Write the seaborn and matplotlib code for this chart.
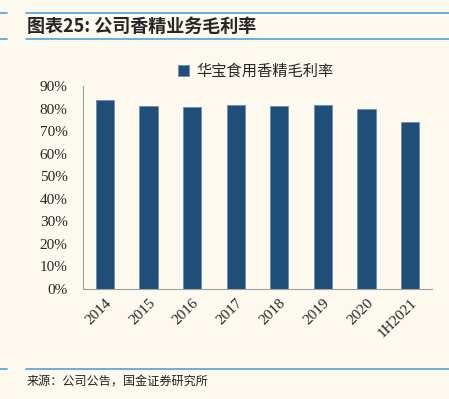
import numpy as np
import pandas as pd
import matplotlib
matplotlib.use("Agg")
import matplotlib.pyplot as plt
import seaborn as sns
from matplotlib.lines import Line2D
from matplotlib.patches import Patch

# ================= Data =================
years = ['2014', '2015', '2016', '2017', '2018', '2019', '2020', '1H2021']
margin = [83.6, 81.1, 80.5, 81.7, 81.2, 81.4, 79.6, 73.9]
series_name = '华宝食用香精毛利率'
title_text = '图表25: 公司香精业务毛利率'
source_text = '来源：公司公告，国金证券研究所'

bg = '#FDF9EF'
bar_color = '#1F4E79'
line_blue = '#4FA3D8'
cjk = ['Noto Sans CJK SC', 'DejaVu Sans']
serif = ['Liberation Serif', 'DejaVu Serif']

sns.set_style('white')
plt.rcParams['font.family'] = cjk

df = pd.DataFrame({'year': years, 'margin': margin})

fig = plt.figure(figsize=(4.49, 3.99), dpi=100, facecolor=bg)
W, H = 449, 399
ax = fig.add_axes([83 / W, 1 - 289 / H, (432 - 83) / W, (289 - 86) / H])
ax.set_facecolor(bg)

sns.barplot(data=df, x='year', y='margin', color=bar_color, width=0.42,
            edgecolor='#6F8FB0', linewidth=0.6, saturation=1, ax=ax)

ax.set_ylim(0, 90)
ax.set_xlim(-0.5, len(years) - 0.5)
ax.set_yticks(np.arange(0, 91, 10))
ax.set_yticklabels([f'{v}%' for v in range(0, 91, 10)], fontfamily=serif, fontsize=11)
ax.set_xticks(np.arange(len(years)))
ax.set_xticklabels(years, rotation=45, ha='right', rotation_mode='anchor',
                   fontfamily=serif, fontsize=11)
ax.tick_params(axis='x', length=0, pad=5)
ax.tick_params(axis='y', length=4, color='#A0A0A0', direction='out', pad=7)
# x tick marks sit between categories
ax.set_xticks(np.arange(-0.5, len(years)), minor=True)
ax.tick_params(axis='x', which='minor', length=4, color='#A0A0A0', direction='out')
ax.set_xlabel(None)
ax.set_ylabel(None)
for s in ['top', 'right']:
    ax.spines[s].set_visible(False)
for s in ['left', 'bottom']:
    ax.spines[s].set_color('#A0A0A0')
    ax.spines[s].set_linewidth(0.8)

handle = Patch(facecolor=bar_color, edgecolor='#6F8FB0', linewidth=0.6)
fig.legend([handle], [series_name], loc='center', bbox_to_anchor=(256 / W, 1 - 71 / H),
           frameon=False, handlelength=0.7, handleheight=0.7,
           handletextpad=0.5, prop={'family': cjk, 'size': 11})

# header / footer rules
for y in [13, 39, 369]:
    yf = 1 - y / H
    fig.add_artist(Line2D([0, 7 / W], [yf, yf], color=line_blue, lw=1.2))
    fig.add_artist(Line2D([26 / W, 1], [yf, yf], color=line_blue, lw=1.2))

fig.text(27 / W, 1 - 26 / H, title_text, fontsize=13, fontweight='bold',
         fontstyle='italic', va='center', ha='left', family=cjk)
fig.text(27 / W, 1 - 381 / H, source_text, fontsize=8.7, va='center', ha='left',
         family=cjk, color='#222222')

fig.savefig('out.png', dpi=100, facecolor=bg)
